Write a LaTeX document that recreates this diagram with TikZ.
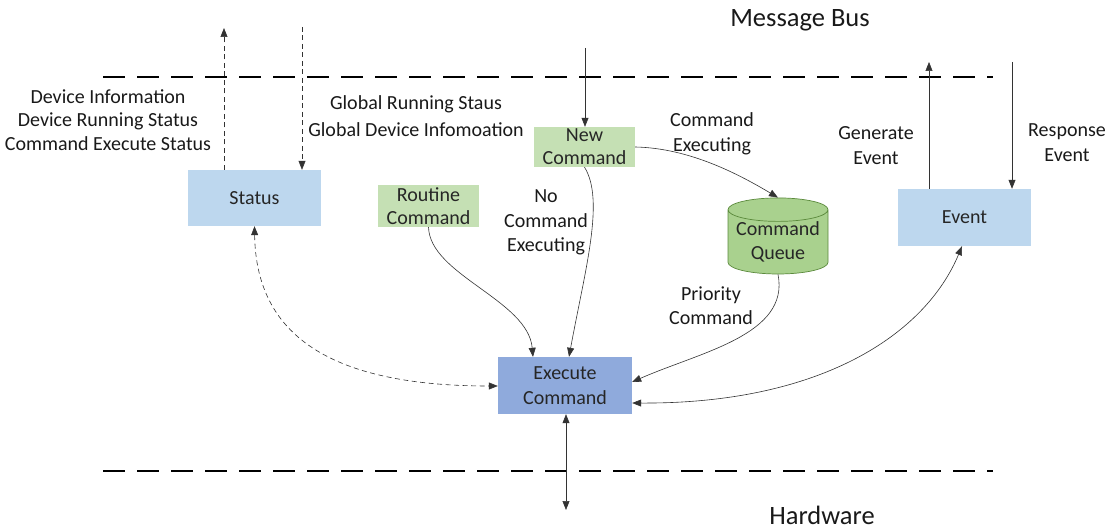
\documentclass[tikz,border=0pt]{standalone}
\usepackage{fontspec}
\setmainfont{Carlito}
\usetikzlibrary{arrows.meta,shapes.geometric}
\begin{document}
\begin{tikzpicture}[x=1pt,y=-1pt,
  box/.style={inner sep=0pt,align=center,font=\fontsize{20}{23}\selectfont,text=black!85},
  lbl/.style={inner sep=0pt,align=center,font=\fontsize{20}{23.5}\selectfont,text=black!90},
  bus/.style={line width=2.6pt,dash pattern=on 22pt off 12pt},
  conn/.style={black!80,line width=0.6pt,-{Triangle[width=7pt,length=9pt]}},
  bconn/.style={black!80,line width=0.6pt,{Triangle[width=7pt,length=9pt]}-{Triangle[width=7pt,length=9pt]}},
  dconn/.style={conn,dash pattern=on 5pt off 3.5pt}]
\useasboundingbox (0,0) rectangle (1108,529);
\definecolor{lblue}{HTML}{BDD7EE}
\definecolor{mblue}{HTML}{8FAADC}
\definecolor{lgreen}{HTML}{C5E0B4}
\definecolor{cgreen}{HTML}{A9D18E}
\definecolor{dgreen}{HTML}{5B8A3C}

\draw[bus] (103,77) -- (993,77);
\draw[bus] (103,471) -- (993,471);
\node[lbl,font=\fontsize{26.5}{30}\selectfont,anchor=base] (mb) at (800,27) {Message Bus};
\node[lbl,font=\fontsize{26.5}{30}\selectfont,anchor=base] (hw) at (822,524) {Hardware};

\node[box,fill=lblue,minimum width=133pt,minimum height=56pt] (st) at (254.5,198) {Status};
\node[box,fill=lblue,minimum width=133pt,minimum height=57pt] (ev) at (964.5,217.5) {Event};
\node[box,fill=lgreen,minimum width=101pt,minimum height=40pt] (nc) at (584.5,147) {New\\Command};
\node[box,fill=lgreen,minimum width=101pt,minimum height=42pt] (rc) at (428.5,206) {Routine\\Command};
\node[box,fill=mblue,minimum width=134pt,minimum height=57pt,font=\fontsize{20}{25}\selectfont] (ex) at (565,385.5) {Execute\\Command};
\node[box,cylinder,shape border rotate=90,aspect=0.28,draw=dgreen,line width=0.7pt,fill=cgreen,
      font=\fontsize{20}{24}\selectfont,minimum width=100pt,minimum height=70pt] (cq) at (778,242) {Command\\Queue};

\node[lbl] (t1) at (108,120) {Device Information\\Device Running Status\\Command Execute Status};
\node[lbl,font=\fontsize{20}{27}\selectfont] (t2) at (416,116.5) {Global Running Staus\\Global Device Infomoation};
\node[lbl,font=\fontsize{20}{25}\selectfont] (t3) at (712,133.5) {Command\\Executing};
\node[lbl,font=\fontsize{20}{24.5}\selectfont] (t4) at (546,222.5) {No\\Command\\Executing};
\node[lbl,font=\fontsize{20}{24}\selectfont] (t5) at (711,306) {Priority\\Command};
\node[lbl,font=\fontsize{20}{25}\selectfont] (t6) at (876,145.5) {Generate\\Event};
\node[lbl,font=\fontsize{20}{25}\selectfont] (t7) at (1067,142.5) {Response\\Event};

\coordinate (su) at (224,28);
\coordinate (sd) at (302,27);
\coordinate (nt) at (585,48);
\coordinate (gu) at (929,62);
\coordinate (rd) at (1012,62);
\coordinate (hb) at (566,510);

\draw[dconn] (st.north -| su) -- (su);
\draw[dconn] (sd) -- (sd |- st.north);
\draw[conn] (nt) -- (nt |- nc.north);
\draw[conn] (ev.north -| gu) -- (gu);
\draw[conn] (rd) -- (rd |- ev.north);
\draw[bconn] (ex.south -| hb) -- (hb);

\draw[dconn,{Triangle[width=7pt,length=9pt]}-{Triangle[width=7pt,length=9pt]}] (st.south) .. controls (256,335) and (330,386) .. (ex.west |- 0,386);
\draw[conn] (rc.south) .. controls (430,275) and (528,300) .. (ex.north -| 533,0);
\draw[conn] (nc.south) .. controls (605,200) and (585,270) .. (ex.north -| 569,0);
\draw[conn] (nc.east) .. controls (690,148) and (740,175) .. (cq.top);
\draw[conn] (cq.bottom) .. controls (790,335) and (700,352) .. (ex.east |- 0,382);
\draw[bconn] (ex.east |- 0,403) .. controls (820,404) and (925,335) .. (ev.south -| 962,0);
\end{tikzpicture}
\end{document}
